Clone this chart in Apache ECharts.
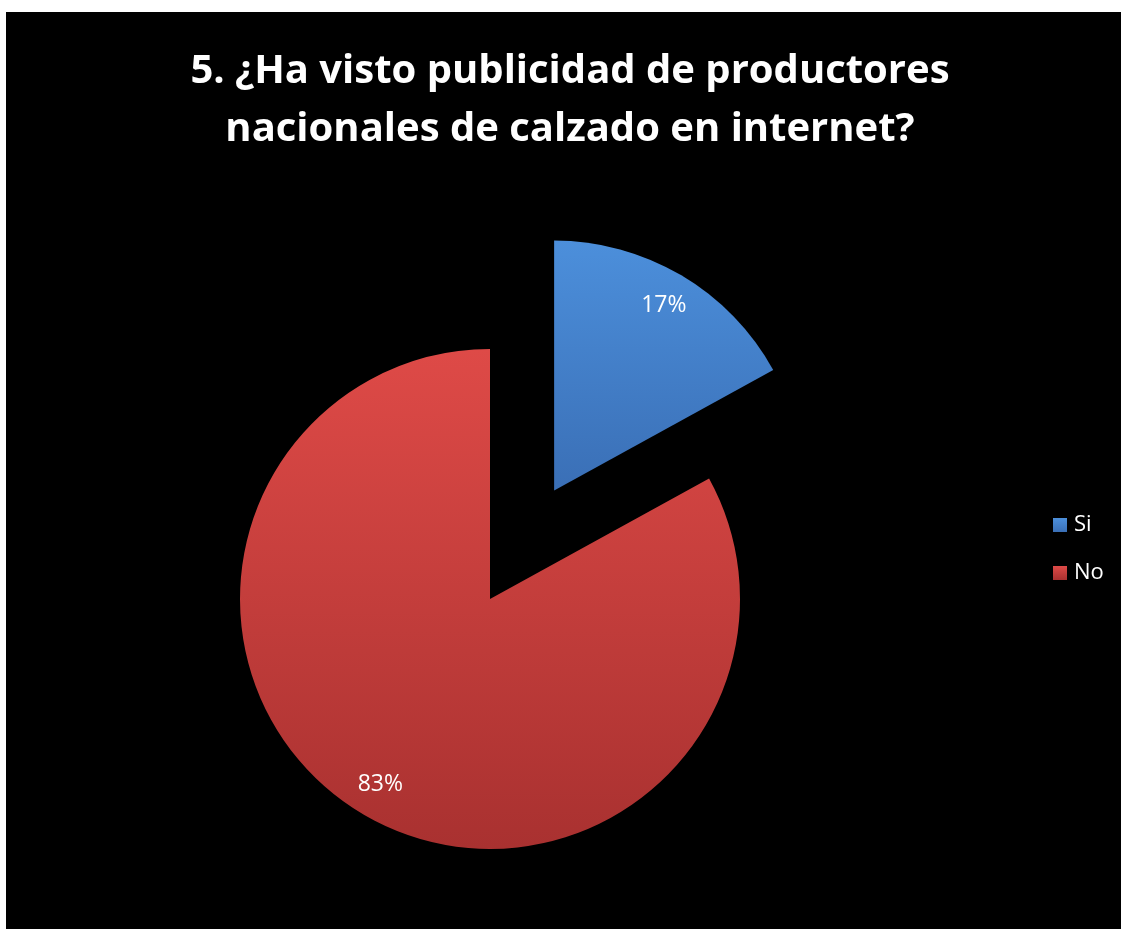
<!DOCTYPE html>
<html>
<head>
<meta charset="utf-8">
<script src="https://cdn.jsdelivr.net/npm/echarts@6/dist/echarts.min.js"></script>
<style>
  html, body { margin: 0; padding: 0; background: #ffffff; }
  #chart { position: absolute; left: 6px; top: 12px; width: 1115px; height: 917px; }
</style>
</head>
<body>
<div id="chart"></div>
<script>
// Survey answers for question 5
const categories = ['Si', 'No'];
const shares = [17, 83];
const titleLines = ['5. ¿Ha visto publicidad de productores', 'nacionales de calzado en internet?'];

const sliceColors = [
  { top: '#4c8fdb', bottom: '#3a6fb6' },
  { top: '#de4a47', bottom: '#a93130' }
];

function fill(c) {
  return {
    type: 'linear', x: 0, y: 0, x2: 0, y2: 1,
    colorStops: [{ offset: 0, color: c.top }, { offset: 1, color: c.bottom }]
  };
}

const pieData = categories.map((name, i) => ({
  name: name,
  value: shares[i],
  selected: name === 'Si',
  itemStyle: { color: fill(sliceColors[i]) }
}));

const total = shares.reduce((a, b) => a + b, 0);
const center = [484, 587];
const R = 250;

const chart = echarts.init(document.getElementById('chart'));
chart.setOption({
  backgroundColor: '#000000',
  animation: false,
  graphic: [{
    type: 'text',
    x: 564,
    y: 31,
    style: {
      text: titleLines.join('\n'),
      align: 'center',
      verticalAlign: 'top',
      lineHeight: 58,
      fill: '#ffffff',
      font: 'bold 40px "Open Sans"'
    }
  }],
  legend: {
    orient: 'vertical',
    left: 1047,
    top: 502,
    padding: 0,
    itemWidth: 14,
    itemHeight: 14,
    itemGap: 26,
    icon: 'rect',
    data: categories,
    textStyle: { color: '#ffffff', fontSize: 22, fontFamily: 'Open Sans', lineHeight: 22, padding: [0, 0, 0, 2] },
    selectedMode: false
  },
  series: [
    {
      type: 'pie',
      center: center,
      radius: [0, R],
      startAngle: 90,
      clockwise: true,
      selectedMode: 'single',
      selectedOffset: 126,
      avoidLabelOverlap: false,
      silent: true,
      label: { show: false },
      labelLine: { show: false },
      emphasis: { disabled: true },
      itemStyle: { shadowBlur: 6, shadowColor: 'rgba(0,0,0,0.6)' },
      data: pieData
    },
    {
      // transparent ring that only places the percentage labels
      type: 'pie',
      center: center,
      radius: [R * 0.7, R * 1.0],
      startAngle: 90,
      clockwise: true,
      selectedMode: 'single',
      selectedOffset: 126,
      avoidLabelOverlap: false,
      silent: true,
      emphasis: { disabled: true },
      itemStyle: { color: 'rgba(0,0,0,0)' },
      label: {
        show: true,
        position: 'inside',
        color: '#ffffff',
        fontSize: 23,
        fontFamily: 'Open Sans',
        formatter: p => Math.round(p.value / total * 100) + '%'
      },
      labelLine: { show: false },
      data: categories.map((name, i) => ({ name: name, value: shares[i], selected: name === 'Si' }))
    }
  ]
});
</script>
</body>
</html>
